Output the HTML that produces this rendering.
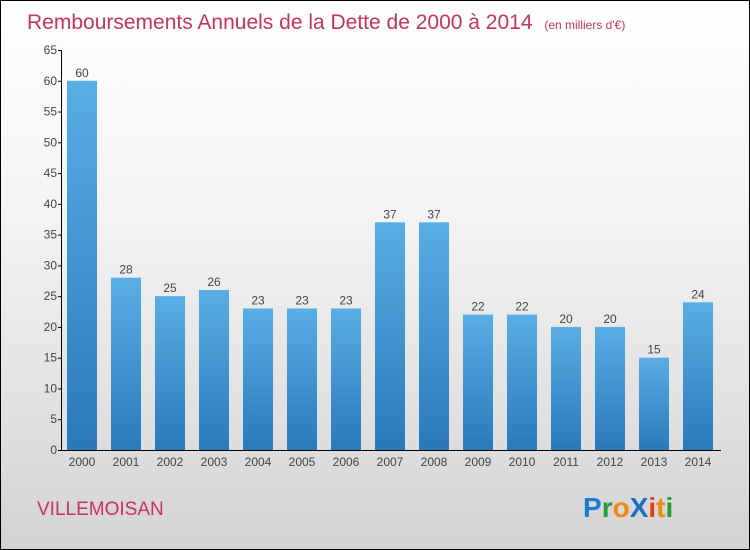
<!DOCTYPE html>
<html><head><meta charset="utf-8"><style>
body{margin:0}
#c{width:748px;height:548px;border:1px solid #000;background:linear-gradient(#ffffff,#f3f3f3 40%,#d3d3d3);position:relative;overflow:hidden;font-family:"Liberation Sans",sans-serif}
</style></head><body>
<div id="c">
<svg width="748" height="548" id="s">
<text x="26" y="28" font-size="21" fill="#c8325f">Remboursements Annuels de la Dette de 2000 à 2014 <tspan font-size="12" dx="6">(en milliers d'€)</tspan></text>
<text x="36" y="514" font-size="19" fill="#c8325f">VILLEMOISAN</text>
<g font-size="28" font-weight="bold" font-family="'Liberation Sans',sans-serif">
<text x="582" y="516"><tspan fill="#1a7fd4">P</tspan><tspan fill="#2a9a3a">r</tspan><tspan fill="#f08a10">o</tspan><tspan fill="#1a6fc4">X</tspan><tspan fill="#e04010">i</tspan><tspan fill="#f08a10">t</tspan><tspan fill="#2a9a3a">i</tspan></text>
</g>
<defs><linearGradient id="g" x1="0" y1="0" x2="0" y2="1"><stop offset="0" stop-color="#5aaee6"/><stop offset="1" stop-color="#2a78b8"/></linearGradient></defs>
<g id="plot"></g>
</svg>
</div>
<script>
const years=["2000","2001","2002","2003","2004","2005","2006","2007","2008","2009","2010","2011","2012","2013","2014"];
const values=[60,28,25,26,23,23,23,37,37,22,22,20,20,15,24];
const ticks=[0,5,10,15,20,25,30,35,40,45,50,55,60,65];
const NS="http://www.w3.org/2000/svg";
const g=document.getElementById('plot');
const y0=449,ppu=400/65,x0=81,step=44,bw=30;
const y=v=>y0-v*ppu, x=i=>x0+i*step;
function mk(t,a){const e=document.createElementNS(NS,t);for(const k in a)e.setAttribute(k,a[k]);g.appendChild(e);return e;}
let ax=mk('line',{x1:60.5,y1:y(65),x2:60.5,y2:y0+0.5,stroke:'#000'});


let bx=mk('line',{x1:60,y1:y0+0.5,x2:720,y2:y0+0.5,stroke:'#000'});


ticks.forEach(t=>{
 let l=mk('line',{x1:57,x2:61,y1:y(t)+0.5,y2:y(t)+0.5,stroke:'#000'});
 
 
 let tx=mk('text',{x:56,y:y(t)+4,'text-anchor':'end','font-size':12,fill:'#444'});tx.textContent=t;
 
 
});
values.forEach((v,i)=>{
 let r=mk('rect',{x:x(i)-bw/2,y:y(v),width:bw,height:y0-y(v),fill:'url(#g)'});
 
 
 let t=mk('text',{x:x(i),y:y(v)-4,'text-anchor':'middle','font-size':12,fill:'#444'});t.textContent=v;
 
 
 let c=mk('text',{x:x(i),y:y0+16,'text-anchor':'middle','font-size':12,fill:'#444'});c.textContent=years[i];
 
 
});
</script>
</body></html>
